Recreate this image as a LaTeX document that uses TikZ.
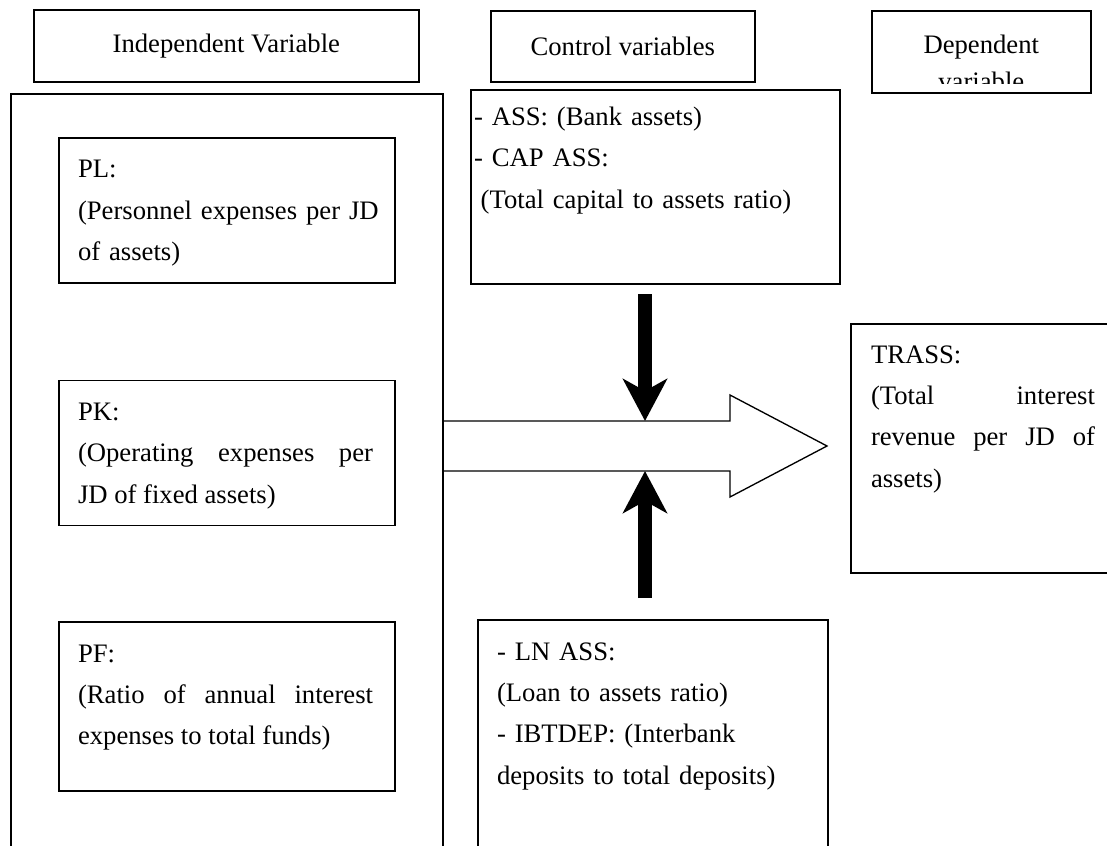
\documentclass[tikz,border=0pt]{standalone}
\usepackage{fontspec}
\setmainfont{Liberation Serif}
\usetikzlibrary{positioning, arrows.meta}
\tikzset{
	box/.style={draw, line width=1.2pt, inner sep=0pt, anchor=north west, font=\fontsize{20}{31}\selectfont}, % cadres
	txt/.style={inner sep=0pt, outer sep=0pt, anchor=north west, text width=221.25pt, align=left, font=\fontsize{20}{31}\selectfont}, % textes dans les cadres
	fat/.style={line width=10.5pt, -{Stealth[length=31.5pt, width=33pt, inset=9pt]}}, % grosses flèches noires
}
\begin{document}
\begin{tikzpicture}[x=0.75pt, y=-0.75pt, node distance=72pt]
	\useasboundingbox (0,0) rectangle (1107,846);
	\clip (0,0) rectangle (1107,846);

	% En-têtes
	\node[box, minimum width=288.75pt, minimum height=54pt] (indeph) at (33,9) {Independent Variable};
	\node[box, minimum width=198pt, minimum height=53.25pt] (ctrlh) at (490,10) {Control variables};
	\node[box, minimum width=164.25pt, minimum height=61.5pt] (deph) at (871,10) {};
	\begin{scope}
		\clip (871,10) rectangle (1090,83); % texte coupé par le cadre
		\node[txt, text width=150pt, align=center, font=\fontsize{20}{27.75}\selectfont, below=19.1pt of deph.north] (deph-t) {Dependent\\variable};
	\end{scope}

	% Variables indépendantes
	\node[box, minimum width=324pt, minimum height=600pt] (indep) at (10,93) {};
	\node[box, minimum width=252pt, minimum height=108.75pt] (pl) at (58,137) {};
	\node[box, minimum width=252pt, minimum height=108.75pt, below=of pl] (pk) {};
	\node[box, minimum width=252pt, minimum height=126.75pt, below=71.25pt of pk] (pf) {};
	\node[txt, text width=240pt, below right=17.6pt and 15pt of pl.north west] (pl-t) {PL:\\(Personnel expenses per JD\\of assets)};
	\node[txt, align=justify, below right=17.6pt and 15pt of pk.north west] (pk-t) {PK:\\(Operating expenses per\linebreak JD of fixed assets)};
	\node[txt, align=justify, below right=17.6pt and 15pt of pf.north west] (pf-t) {PF:\\(Ratio of annual interest\linebreak expenses to total funds)};

	% Variables de contrôle
	\node[box, minimum width=276.75pt, minimum height=145.5pt] (ctop) at (470,89) {};
	\node[txt, text width=270pt, below right=13.5pt and 3pt of ctop.north west] (ctop-t) {- ASS: (Bank assets)\\- CAP ASS:\\\hspace*{5pt}(Total capital to assets ratio)};
	\node[box, minimum width=262.5pt, minimum height=225pt] (cbot) at (477,619) {};
	\node[txt, text width=240pt, below right=17.6pt and 15pt of cbot.north west] (cbot-t) {- LN ASS:\\(Loan to assets ratio)\\- IBTDEP: (Interbank\\deposits to total deposits)};

	% Variable dépendante
	\node[box, minimum width=225pt, minimum height=186.75pt] (trass) at (850,323) {};
	\node[txt, text width=168pt, align=justify, below right=16.9pt and 15.75pt of trass.north west] (trass-t) {TRASS:\\(Total interest\linebreak revenue per JD of\linebreak assets)};

	% Flèches
	\coordinate (ftop) at (645,421);
	\coordinate (fbot) at (645,471);
	\coordinate (dsrc) at (645,294);
	\coordinate (usrc) at (645,598);
	\draw[line width=1pt] (indep.east |- ftop) -- (730,421) -- (730,395) -- (827,446) -- (730,497) -- (730,471) -- (indep.east |- fbot); % flèche principale
	\draw[fat] (dsrc) -- (ftop);
	\draw[fat] (usrc) -- (fbot);
\end{tikzpicture}
\end{document}
